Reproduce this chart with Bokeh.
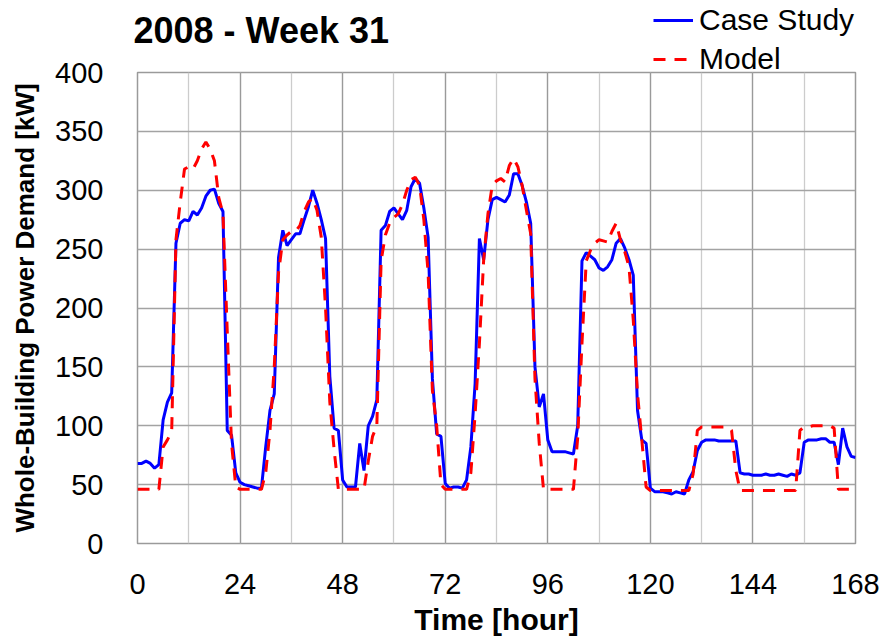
from bokeh.plotting import figure
from bokeh.models import Range1d, SingleIntervalTicker, FixedTicker, Legend, LegendItem, Label
from bokeh.layouts import column
from bokeh.embed import file_html
from bokeh.resources import INLINE

hours = list(range(169))

case_study = [
    68, 68, 70, 68, 64, 67, 105, 120, 128, 255,
    272, 275, 274, 282, 279, 285, 295, 300, 301, 289,
    282, 96, 92, 60, 52, 50, 49, 48, 47, 47,
    82, 113, 127, 243, 266, 253, 258, 263, 263, 275,
    286, 300, 289, 275, 259, 142, 98, 96, 54, 48,
    48, 48, 85, 62, 100, 108, 122, 266, 270, 282,
    285, 280, 275, 283, 303, 310, 306, 285, 260, 140,
    93, 91, 51, 47, 48, 48, 47, 54, 82, 136,
    259, 241, 275, 292, 294, 292, 290, 296, 314, 314,
    304, 290, 272, 150, 116, 127, 88, 78, 78, 78,
    78, 77, 76, 100, 240, 247, 244, 241, 234, 232,
    235, 241, 255, 259, 251, 241, 228, 113, 88, 85,
    47, 44, 44, 44, 43, 42, 44, 43, 42, 54,
    61, 79, 86, 88, 88, 88, 87, 87, 87, 87,
    87, 60, 59, 59, 58, 58, 58, 59, 58, 58,
    59, 58, 57, 59, 58, 60, 86, 88, 88, 88,
    89, 89, 86, 86, 67, 98, 82, 74, 73,
]

model = [
    46, 46, 46, 46, 46, 46, 82, 88, 95, 258,
    290, 318, 320, 318, 325, 335, 341, 335, 325, 294,
    280, 180, 85, 48, 46, 46, 46, 46, 46, 46,
    60, 96, 150, 230, 258, 262, 265, 265, 270, 282,
    290, 293, 283, 260, 200, 120, 80, 46, 46, 46,
    46, 46, 46, 46, 70, 91, 100, 240, 262, 272,
    277, 280, 288, 300, 309, 311, 304, 275, 230, 130,
    100, 50, 46, 46, 46, 46, 46, 46, 60, 110,
    170, 241, 280, 304, 308, 310, 307, 321, 327, 320,
    304, 283, 263, 140, 85, 46, 46, 46, 46, 46,
    46, 46, 46, 90, 170, 240, 249, 255, 258, 257,
    256, 265, 272, 258, 248, 235, 190, 127, 88, 48,
    45, 45, 45, 45, 45, 45, 45, 45, 45, 45,
    59, 96, 99, 99, 99, 99, 99, 99, 99, 96,
    62, 45, 45, 45, 45, 45, 45, 45, 45, 45,
    45, 45, 45, 45, 45, 96, 99, 99, 100, 100,
    100, 100, 100, 98, 46, 46, 46, 46, 46,
]

y_ticks = [0, 50, 100, 150, 200, 250, 300, 350, 400]
title_text = "2008 - Week 31"
series_names = ["Case Study", "Model"]

FONT = "Liberation Sans"
BLUE = "#0000FF"
RED = "#FF0000"
DASH = "12 9"
NAN2 = [float("nan"), float("nan")]

# ---- header: title and legend (drawn in its own canvas so nothing is clipped)
HW, HH = 883, 80
header = figure(width=HW, height=HH, output_backend="svg", toolbar_location=None,
                x_range=Range1d(0, HW), y_range=Range1d(HH, 0),
                x_axis_type=None, y_axis_type=None,
                min_border=0, min_border_left=0, min_border_right=0,
                min_border_top=0, min_border_bottom=0)
header.outline_line_color = None
header.grid.visible = False
header.background_fill_color = "white"
header.border_fill_color = "white"

header.add_layout(Label(x=133, y=30, text=title_text, text_font=FONT,
                        text_font_size="36px", text_font_style="bold",
                        text_color="black", text_baseline="middle",
                        text_align="left"))

# legend proxies (no visible data; they only carry the line styles)
h1 = header.line(NAN2, NAN2, line_color=BLUE, line_width=3)
h2 = header.line(NAN2, NAN2, line_color=RED, line_width=3, line_dash=DASH)
legend = Legend(items=[LegendItem(label=series_names[0], renderers=[h1]),
                       LegendItem(label=series_names[1], renderers=[h2])],
                location=(653, 4))
legend.label_text_font = FONT
legend.label_text_font_size = "30px"
legend.label_text_color = "black"
legend.glyph_width = 40
legend.label_standoff = 6
legend.spacing = 5
legend.padding = 0
legend.margin = 0
legend.border_line_color = None
legend.background_fill_alpha = 0
header.add_layout(legend, "center")

# ---- main chart
p = figure(width=883, height=586, output_backend="svg", toolbar_location=None,
           x_range=Range1d(0, 168), y_range=Range1d(0, 400),
           min_border_left=137, min_border_right=28, min_border_top=18,
           min_border_bottom=97, margin=(-26, 0, 0, 0))

for fig in (header, p):
    try:
        fig.frame_align = False
    except Exception:
        pass

p.outline_line_color = "#9a9a9a"
p.outline_line_width = 1.5
p.background_fill_color = "white"
p.border_fill_alpha = 0

p.xaxis.ticker = SingleIntervalTicker(interval=24, num_minor_ticks=2)
p.yaxis.ticker = FixedTicker(ticks=y_ticks)

for ax in (p.xaxis, p.yaxis):
    ax.axis_line_color = None
    ax.major_tick_line_color = None
    ax.minor_tick_line_color = None
    ax.major_label_text_font = FONT
    ax.major_label_text_font_size = "29px"
    ax.major_label_text_color = "black"
    ax.axis_label_text_font = FONT
    ax.axis_label_text_font_style = "bold"
    ax.axis_label_text_color = "black"

p.xaxis.axis_label = "Time [hour]"
p.xaxis.axis_label_text_font_size = "30px"
p.xaxis.major_label_standoff = 24
p.xaxis.axis_label_standoff = 6

p.yaxis.axis_label = "Whole-Building Power Demand [kW]"
p.yaxis.axis_label_text_font_size = "26px"
p.yaxis.major_label_standoff = 28
p.yaxis.axis_label_standoff = 12

p.xgrid.grid_line_color = "#9a9a9a"
p.xgrid.minor_grid_line_color = "#cccccc"
p.xgrid.grid_line_width = 1.3
p.xgrid.minor_grid_line_width = 1.3
p.ygrid.grid_line_color = "#a3a3a3"
p.ygrid.grid_line_width = 1.3

p.line(hours, case_study, line_color=BLUE, line_width=3)
p.line(hours, model, line_color=RED, line_width=3, line_dash=DASH)

layout = column(header, p, spacing=0)

open("out.html", "w").write(file_html(layout, INLINE))
